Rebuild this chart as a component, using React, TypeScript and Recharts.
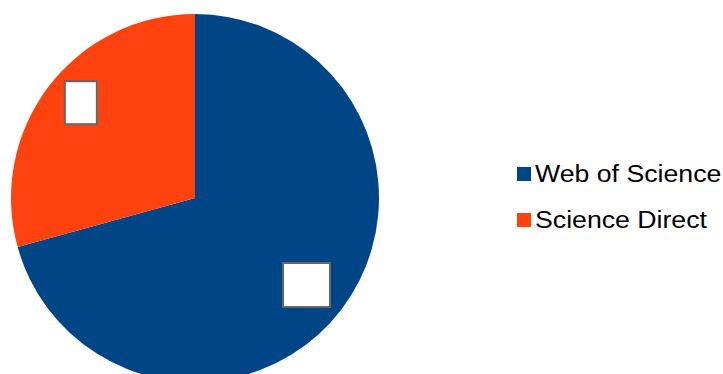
import React from 'react';
import { PieChart, Pie, Cell, Legend } from 'recharts';

const sources = ['Web of Science', 'Science Direct'];
const shares = [70.7, 29.3];

const colors = ['#004586', '#ff420e'];
const RAD = Math.PI / 180;

const data = sources.map((name, i) => ({ name, value: shares[i] }));

// empty white label boxes, like the source export
const boxSize = [
  { w: 47, h: 44, r: 141.4, shift: -0.7 },
  { w: 32, h: 43, r: 148.7, shift: -2.6 },
];

const renderLabel = (props: any) => {
  const { cx, cy, midAngle, index } = props;
  const b = boxSize[index % boxSize.length];
  const a = midAngle + b.shift;
  const x = cx + b.r * Math.cos(-a * RAD);
  const y = cy + b.r * Math.sin(-a * RAD);
  return (
    <rect
      x={x - b.w / 2}
      y={y - b.h / 2}
      width={b.w}
      height={b.h}
      fill="#ffffff"
      stroke="#666666"
      strokeWidth={2}
    />
  );
};

const LegendContent = () => (
  <div style={{ fontFamily: '"Liberation Sans", Arial, sans-serif' }}>
    {data.map((d, i) => (
      <div key={d.name} style={{ display: 'flex', alignItems: 'center', height: 46 }}>
        <span
          style={{
            display: 'inline-block',
            width: 14,
            height: 14,
            background: colors[i],
            marginRight: 4,
          }}
        />
        <span
          style={{
            display: 'inline-block',
            fontSize: 23.5,
            color: '#000',
            transform: 'scaleX(1.135)',
            transformOrigin: 'left center',
            whiteSpace: 'nowrap',
            lineHeight: '24px',
          }}
        >
          {d.name}
        </span>
      </div>
    ))}
  </div>
);

export default function App() {
  return (
    <div style={{ position: 'absolute', left: 0, top: 0, width: 723, height: 374, background: '#fff' }}>
      <PieChart width={723} height={374} margin={{ top: 0, right: 0, bottom: 0, left: 0 }}>
        <Pie
          data={data}
          dataKey="value"
          nameKey="name"
          cx={195}
          cy={198}
          outerRadius={184}
          startAngle={90}
          endAngle={-270}
          stroke="none"
          label={renderLabel}
          labelLine={false}
          isAnimationActive={false}
        >
          {data.map((_, idx) => (
            <Cell key={idx} fill={colors[idx]} />
          ))}
        </Pie>
        <Legend
          content={<LegendContent />}
          wrapperStyle={{ position: 'absolute', left: 517, top: 151, width: 206 }}
        />
      </PieChart>
    </div>
  );
}
